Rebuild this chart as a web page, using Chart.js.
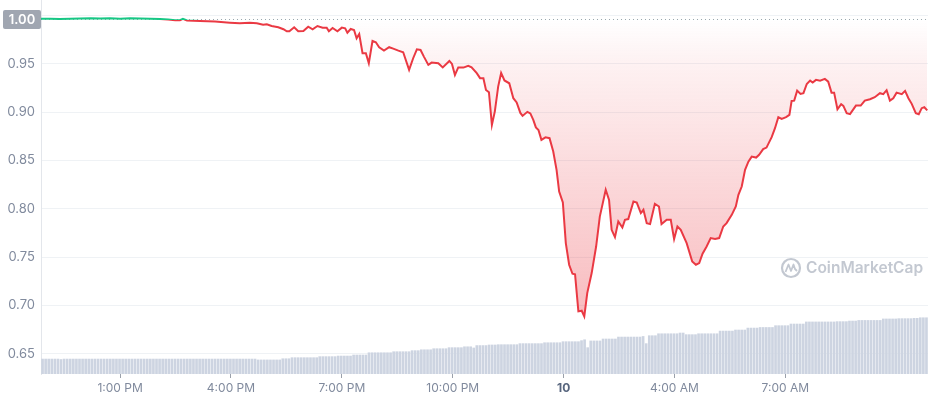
<!DOCTYPE html>
<html><head><meta charset="utf-8">
<script src="https://cdn.jsdelivr.net/npm/chart.js@4/dist/chart.umd.min.js"></script>
<style>html,body{margin:0;padding:0;background:#fff;}canvas{display:block;}</style>
</head><body>
<canvas id="c" width="929" height="400"></canvas>
<script>
// ---- data (time in hours from the start of the 24h window) ----
const openPrice = 0.996;
const priceHours = [
0.00,0.24,0.51,0.79,1.06,1.35,1.60,1.87,2.14,2.41,2.68,2.95,3.22,3.44,3.63,3.76,3.84,3.95,4.30,4.71,
5.11,5.38,5.65,5.84,6.01,6.11,6.24,6.42,6.56,6.65,6.72,6.85,6.96,7.10,7.23,7.35,7.48,7.62,7.73,7.79,
7.89,8.02,8.14,8.23,8.29,8.38,8.47,8.54,8.61,8.70,8.79,8.87,8.97,9.06,9.15,9.28,9.42,9.53,9.67,9.80,
9.96,10.07,10.17,10.27,10.36,10.48,10.57,10.75,10.87,11.05,11.12,11.20,11.29,11.43,11.56,11.65,11.79,11.88,11.97,12.04,
12.12,12.20,12.28,12.37,12.45,12.54,12.67,12.78,12.87,12.97,13.03,13.16,13.24,13.32,13.39,13.46,13.54,13.65,13.76,13.86,
13.95,14.02,14.12,14.20,14.29,14.38,14.45,14.54,14.63,14.70,14.78,14.90,15.02,15.12,15.28,15.37,15.44,15.53,15.62,15.73,
15.80,15.89,16.03,16.12,16.23,16.30,16.39,16.48,16.61,16.72,16.79,16.93,17.04,17.13,17.22,17.31,17.47,17.62,17.72,17.81,
17.90,18.01,18.12,18.24,18.35,18.46,18.55,18.69,18.80,18.87,18.96,19.05,19.14,19.23,19.35,19.43,19.54,19.63,19.77,19.86,
19.95,20.04,20.16,20.25,20.31,20.38,20.46,20.55,20.63,20.72,20.81,20.88,20.97,21.08,21.21,21.30,21.39,21.46,21.55,21.65,
21.71,21.80,21.89,22.05,22.18,22.29,22.43,22.56,22.70,22.79,22.88,22.97,23.06,23.15,23.29,23.38,23.47,23.56,23.67,23.75,
23.83,23.90,23.98
];
const prices = [
0.9969,0.9968,0.9966,0.9968,0.9970,0.9974,0.9970,0.9972,0.9969,0.9973,0.9970,0.9968,0.9966,0.9959,0.9952,0.9953,0.9968,0.9950,0.9945,0.9939,
0.9927,0.9921,0.9927,0.9921,0.9907,0.9911,0.9893,0.9880,0.9859,0.9838,0.9838,0.9880,0.9838,0.9841,0.9886,0.9859,0.9893,0.9876,0.9876,0.9838,
0.9872,0.9838,0.9876,0.9869,0.9824,0.9862,0.9852,0.9766,0.9810,0.9611,0.9611,0.9507,0.9738,0.9725,0.9673,0.9638,0.9673,0.9658,0.9638,0.9621,
0.9438,0.9559,0.9652,0.9645,0.9576,0.9490,0.9514,0.9507,0.9464,0.9531,0.9500,0.9386,0.9464,0.9462,0.9481,0.9466,0.9404,0.9353,0.9352,0.9231,
0.9207,0.8869,0.9009,0.9265,0.9407,0.9329,0.9300,0.9145,0.9102,0.8993,0.8962,0.9004,0.8988,0.8921,0.8843,0.8817,0.8714,0.8740,0.8731,0.8593,
0.8404,0.8179,0.8067,0.7645,0.7421,0.7328,0.7323,0.6938,0.6945,0.6886,0.7128,0.7335,0.7610,0.7920,0.8197,0.8093,0.7783,0.7707,0.7869,0.7807,
0.7886,0.7894,0.8076,0.8065,0.7956,0.7990,0.7852,0.7842,0.8052,0.8024,0.7842,0.7886,0.7886,0.7687,0.7817,0.7783,0.7645,0.7455,0.7421,0.7438,
0.7535,0.7610,0.7697,0.7687,0.7697,0.7817,0.7852,0.7938,0.8024,0.8145,0.8231,0.8404,0.8489,0.8541,0.8531,0.8559,0.8618,0.8634,0.8742,0.8835,
0.8949,0.8931,0.8949,0.8973,0.9117,0.9120,0.9224,0.9190,0.9197,0.9293,0.9327,0.9307,0.9335,0.9327,0.9345,0.9317,0.9203,0.9203,0.9031,0.9083,
0.9066,0.8990,0.8980,0.9069,0.9069,0.9120,0.9135,0.9156,0.9197,0.9187,0.9228,0.9120,0.9145,0.9203,0.9187,0.9221,0.9145,0.9087,0.8990,0.8980,
0.9042,0.9052,0.9019
];
// 24h rolling volume, one bar per 5 minutes (billions USD)
const volumes = [
1.00,1.00,1.00,1.00,1.00,1.00,0.97,1.00,1.00,1.00,1.00,1.00,
1.00,1.00,1.00,1.00,1.00,1.00,1.00,1.00,1.00,1.00,1.00,1.00,
1.00,1.00,1.00,1.00,1.00,1.00,1.00,1.00,1.00,1.00,1.00,1.00,
1.00,1.00,1.00,1.00,1.00,1.00,1.00,1.00,1.00,1.00,1.00,1.00,
1.00,1.00,1.00,1.00,1.00,1.00,1.00,1.00,1.00,1.00,1.00,1.00,
1.00,1.00,1.00,1.00,1.00,1.00,1.00,1.00,1.00,1.00,0.94,0.94,
0.94,0.94,0.94,0.94,0.94,0.94,1.02,1.02,1.02,1.09,1.09,1.09,
1.09,1.09,1.09,1.09,1.09,1.09,1.16,1.16,1.16,1.16,1.16,1.16,
1.20,1.20,1.20,1.20,1.20,1.27,1.27,1.27,1.27,1.27,1.42,1.42,
1.42,1.42,1.42,1.42,1.42,1.42,1.49,1.49,1.49,1.49,1.49,1.49,
1.56,1.56,1.56,1.62,1.62,1.62,1.62,1.69,1.69,1.69,1.69,1.69,
1.76,1.76,1.76,1.76,1.76,1.82,1.82,1.82,1.74,1.90,1.90,1.90,
1.90,1.94,1.94,1.94,1.96,1.96,1.96,1.96,1.96,1.96,1.96,2.03,
2.03,2.03,2.03,2.03,2.03,2.03,2.03,2.09,2.09,2.09,2.09,2.09,
2.09,2.16,2.16,2.16,2.16,2.16,2.16,2.23,2.29,1.76,2.21,2.21,
2.21,2.21,2.34,2.34,2.34,2.34,2.34,2.47,2.47,2.47,2.47,2.47,
2.47,2.47,2.47,2.51,2.03,2.56,2.56,2.56,2.69,2.69,2.69,2.69,
2.69,2.69,2.69,2.74,2.74,2.63,2.63,2.63,2.63,2.69,2.69,2.69,
2.69,2.69,2.69,2.69,2.87,2.87,2.87,2.87,2.87,2.94,2.94,2.94,
2.94,3.07,3.07,3.07,3.07,3.11,3.11,3.11,3.11,3.11,3.23,3.23,
3.23,3.23,3.23,3.34,3.34,3.34,3.34,3.34,3.48,3.48,3.48,3.48,
3.48,3.48,3.48,3.48,3.48,3.48,3.50,3.50,3.50,3.50,3.54,3.54,
3.54,3.58,3.58,3.58,3.58,3.58,3.58,3.58,3.58,3.68,3.68,3.68,
3.68,3.68,3.70,3.70,3.70,3.70,3.70,3.72,3.72,3.76,3.76,3.76
];
const xTickHours = [2.14, 5.14, 8.14, 11.14, 14.14, 17.14, 20.14];
const xTickLabels = ['1:00 PM', '4:00 PM', '7:00 PM', '10:00 PM', '10', '4:00 AM', '7:00 AM'];
const yTickValues = [0.65, 0.70, 0.75, 0.80, 0.85, 0.90, 0.95, 1.00];
const openLabel = '1.00';

// ---- chart ----
const RED = '#ea3943', GREEN = '#16c784';
const FONT = 'Inter';
const minPrice = Math.min(...prices);

const overlay = {
  id: 'overlay',
  beforeDatasetsDraw(chart) {
    const c = chart.ctx;
    c.save();
    const col = '#c3c8d1';
    c.strokeStyle = col; c.fillStyle = col; c.lineWidth = 2.2;
    c.beginPath(); c.arc(791, 268, 9, 0, Math.PI * 2); c.stroke();
    c.lineWidth = 1.8; c.lineJoin = 'round';
    c.beginPath();
    c.moveTo(785.5, 272); c.lineTo(788.5, 264.5); c.lineTo(791, 271); c.lineTo(793.5, 264.5); c.lineTo(795, 269); c.lineTo(797, 271);
    c.stroke();
    c.font = '600 15.5px ' + FONT; c.textBaseline = 'middle'; c.textAlign = 'left';
    c.fillText('CoinMarketCap', 806, 268.5);
    c.restore();
  },
  afterDraw(chart) {
    const c = chart.ctx;
    const y = chart.scales.y.getPixelForValue(openPrice);
    c.save();
    c.fillStyle = '#a0a6b1';
    c.beginPath(); c.roundRect(3, y - 9.5, 38, 19, 2); c.fill();
    c.fillStyle = '#ffffff'; c.font = '600 13px ' + FONT;
    c.textAlign = 'center'; c.textBaseline = 'middle';
    c.fillText(openLabel, 22, y + 0.5);
    c.restore();
  }
};

new Chart(document.getElementById('c'), {
  type: 'line',
  data: {
    datasets: [
      {
        label: 'Price', order: 0, yAxisID: 'y',
        data: priceHours.map((h, i) => ({x: h, y: prices[i]})),
        borderWidth: 2, pointRadius: 0, tension: 0,
        borderColor: ctx => {
          const ch = ctx.chart;
          const a = ch.chartArea;
          if (!a || !ch.scales.y) return RED;
          const yo = ch.scales.y.getPixelForValue(openPrice);
          const f = Math.min(1, Math.max(0, (yo - a.top) / (a.bottom - a.top)));
          const g = ch.ctx.createLinearGradient(0, a.top, 0, a.bottom);
          g.addColorStop(0, GREEN); g.addColorStop(f, GREEN);
          g.addColorStop(f, RED); g.addColorStop(1, RED);
          return g;
        },
        backgroundColor: ctx => {
          const ch = ctx.chart;
          if (!ch.chartArea || !ch.scales.y) return 'rgba(234,57,67,0.15)';
          const y0 = ch.scales.y.getPixelForValue(openPrice);
          const y1 = ch.scales.y.getPixelForValue(minPrice);
          const g = ch.ctx.createLinearGradient(0, y0, 0, y1);
          g.addColorStop(0, 'rgba(234,57,67,0.0)');
          g.addColorStop(0.15, 'rgba(234,57,67,0.07)');
          g.addColorStop(1, 'rgba(234,57,67,0.34)');
          return g;
        },
        fill: { target: { value: openPrice }, above: 'rgba(22,199,132,0.06)' }
      },
      {
        label: 'Open', order: 1, yAxisID: 'y',
        data: [{x: 0, y: openPrice}, {x: 24, y: openPrice}],
        borderColor: '#9ea4ae', borderWidth: 1, borderDash: [1, 3], pointRadius: 0, fill: false
      },
      {
        type: 'bar', label: 'Volume', order: 2, yAxisID: 'yv',
        data: volumes.map((v, i) => ({x: (i + 0.5) / 12, y: v})),
        backgroundColor: '#cdd4e1', barThickness: 2
      }
    ]
  },
  options: {
    responsive: false, animation: false, devicePixelRatio: 1,
    layout: { padding: { left: 0, right: 1, top: 0, bottom: 0 } },
    plugins: { legend: { display: false }, tooltip: { enabled: false } },
    scales: {
      x: {
        type: 'linear', min: 0, max: 24, offset: false,
        afterBuildTicks: s => { s.ticks = xTickHours.map(v => ({value: v})); },
        afterFit: s => { s.height = 26; s.paddingLeft = 0; s.paddingRight = 0; },
        grid: { display: true, offset: false, drawOnChartArea: false, drawTicks: true, tickLength: 4, color: '#9aa0aa' },
        border: { display: false },
        ticks: {
          autoSkip: false, maxRotation: 0, padding: 3,
          callback: (v, i) => xTickLabels[i],
          color: c => c.index === 4 ? '#58667e' : '#808a9d',
          font: c => c.index === 4 ? {family: FONT, size: 12, weight: 'bold'} : {family: FONT, size: 12}
        }
      },
      y: {
        type: 'linear', position: 'left', min: 0.629, max: 1.0162,
        afterBuildTicks: s => { s.ticks = yTickValues.map(v => ({value: v})); },
        afterFit: s => { s.width = 41; s.paddingTop = 0; s.paddingBottom = 0; },
        grid: { color: '#eff2f5', drawTicks: false },
        border: { display: true, color: '#e3e6eb' },
        ticks: {
          padding: 6, color: '#808a9d', font: {family: FONT, size: 13},
          callback: v => Math.abs(v - 1) < 1e-9 ? '' : v.toFixed(2)
        }
      },
      yv: { display: false, min: 0, max: 25 }
    }
  },
  plugins: [overlay]
});
</script>
</body></html>
